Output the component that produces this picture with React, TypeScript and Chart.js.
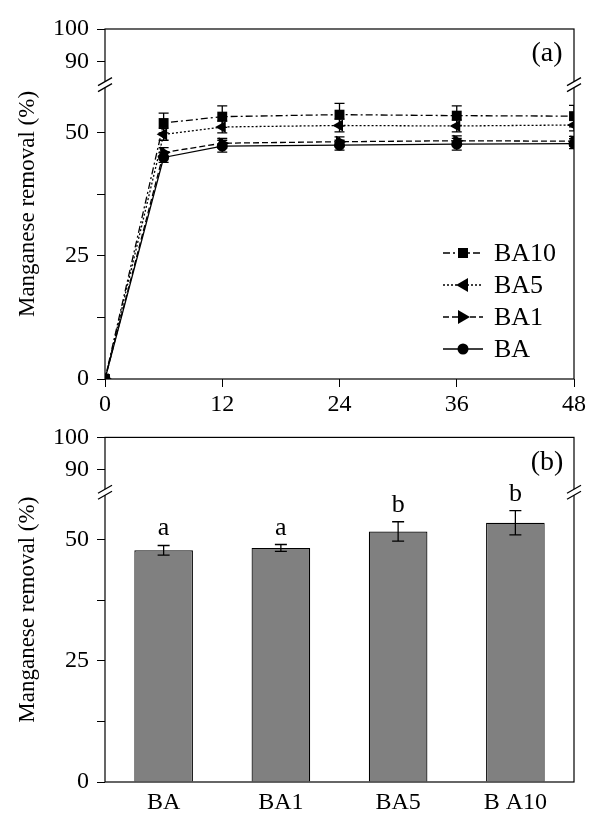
import React, { useEffect, useRef } from 'react';
import { Chart, registerables } from 'chart.js';

Chart.register(...registerables);

// ---------- data ----------
const TIMES = [0, 6, 12, 24, 36, 48];
const BA10 = [0, 52.0, 53.3, 53.7, 53.5, 53.4];
const BA10_ERR = [0, 2.0, 2.2, 2.3, 2.0, 2.2];
const BA5 = [0, 49.7, 51.2, 51.5, 51.4, 51.6];
const BA5_ERR = [0, 1.2, 1.2, 1.3, 1.2, 1.2];
const BA1 = [0, 46.0, 47.9, 48.2, 48.4, 48.3];
const BA1_ERR = [0, 1.0, 1.0, 1.0, 1.0, 1.0];
const BA = [0, 45.0, 47.3, 47.5, 47.7, 47.8];
const BA_ERR = [0, 1.0, 1.2, 1.0, 1.2, 1.0];

const BAR_LABELS = ['BA', 'BA1', 'BA5', 'B A10'];
const BAR_VALUES = [47.8, 48.3, 51.7, 53.5];
const BAR_ERR = [1.0, 0.7, 2.0, 2.5];
const BAR_LETTERS = ['a', 'a', 'b', 'b'];

const X_TICKS = [0, 12, 24, 36, 48];
const Y_TICKS = [0, 25, 50, 90, 100];
const Y_MINOR = [12.5, 37.5];

// ---------- broken axis transform ----------
const LOW_MAX = 60;
const UP_ANCHOR = 90;
const UP_ANCHOR_T = 64.4;
const UP_SLOPE = 0.67;
const f = (v: number) => (v <= LOW_MAX ? v : UP_ANCHOR_T + (v - UP_ANCHOR) * UP_SLOPE);
const T_MAX = f(100);
const T_BREAK = 59.8;

const FONT = "'Liberation Serif', 'Times New Roman', serif";

const yScaleCfg = () => ({
  type: 'linear',
  min: 0,
  max: T_MAX,
  afterBuildTicks: (s: any) => {
    s.ticks = [...Y_TICKS, ...Y_MINOR].sort((a, b) => a - b).map((v) => ({ value: f(v) }));
  },
  afterFit: (s: any) => {
    s.width = 105;
  },
  ticks: {
    autoSkip: false,
    callback: (val: any) => {
      const hit = Y_TICKS.find((v) => Math.abs(f(v) - val) < 1e-6);
      return hit === undefined ? '' : String(hit);
    },
    font: { family: FONT, size: 24 },
    color: '#000',
    padding: 8,
  },
  grid: { drawOnChartArea: false, drawTicks: true, tickLength: 8, color: '#000', lineWidth: 1 },
  border: { display: false },
  title: {
    display: true,
    text: 'Manganese removal (%)',
    font: { family: FONT, size: 23 },
    color: '#000',
    padding: { top: 14, bottom: 0 },
  },
});

const framePlugin = (label: string) => ({
  id: 'frame',
  afterDraw(chart: any) {
    const { ctx, chartArea: a, scales } = chart;
    ctx.save();
    ctx.strokeStyle = '#000';
    ctx.lineWidth = 1.2;
    ctx.strokeRect(a.left, a.top, a.right - a.left, a.bottom - a.top);
    const yb = scales.y.getPixelForValue(T_BREAK);
    for (const x of [a.left, a.right]) {
      ctx.fillStyle = '#fff';
      ctx.fillRect(x - 2, yb - 3, 4, 6);
      ctx.strokeStyle = '#000';
      ctx.lineWidth = 1.2;
      for (const o of [-3, 3]) {
        ctx.beginPath();
        ctx.moveTo(x - 7, yb + o + 4);
        ctx.lineTo(x + 7, yb + o - 4);
        ctx.stroke();
      }
    }
    ctx.fillStyle = '#000';
    ctx.font = `28px ${FONT}`;
    ctx.textAlign = 'center';
    ctx.textBaseline = 'middle';
    ctx.fillText(label, a.right - 27, a.top + 25);
    ctx.restore();
  },
});

const errorPlugin = {
  id: 'errbars',
  afterDatasetsDraw(chart: any) {
    const { ctx, chartArea: a, scales } = chart;
    ctx.save();
    ctx.beginPath();
    ctx.rect(a.left, a.top - 20, a.right - a.left, a.bottom - a.top + 20);
    ctx.clip();
    chart.data.datasets.forEach((ds: any, di: number) => {
      const errs = ds.errors;
      const raw = ds.rawValues;
      if (!errs) return;
      const meta = chart.getDatasetMeta(di);
      const cap = ds.capHalf || 5;
      ctx.strokeStyle = '#000';
      ctx.lineWidth = 1.3;
      ctx.setLineDash([]);
      meta.data.forEach((el: any, i: number) => {
        const e = errs[i];
        if (!e) return;
        const x = el.x;
        const yt = scales.y.getPixelForValue(f(raw[i] + e));
        const yl = scales.y.getPixelForValue(f(raw[i] - e));
        ctx.beginPath();
        ctx.moveTo(x, yt);
        ctx.lineTo(x, yl);
        ctx.moveTo(x - cap, yt);
        ctx.lineTo(x + cap, yt);
        ctx.moveTo(x - cap, yl);
        ctx.lineTo(x + cap, yl);
        ctx.stroke();
        if (ds.letters) {
          ctx.fillStyle = '#000';
          ctx.font = `26px ${FONT}`;
          ctx.textAlign = 'center';
          ctx.textBaseline = 'alphabetic';
          ctx.fillText(ds.letters[i], x, yt - 10);
        }
      });
    });
    ctx.restore();
  },
};

type Series = { label: string; vals: number[]; errs: number[]; dash: number[]; marker: string };
const SERIES: Series[] = [
  { label: 'BA10', vals: BA10, errs: BA10_ERR, dash: [7, 3, 2, 3], marker: 'square' },
  { label: 'BA5', vals: BA5, errs: BA5_ERR, dash: [2, 2], marker: 'left' },
  { label: 'BA1', vals: BA1, errs: BA1_ERR, dash: [6, 3], marker: 'right' },
  { label: 'BA', vals: BA, errs: BA_ERR, dash: [], marker: 'circle' },
];

function drawMarker(ctx: CanvasRenderingContext2D, kind: string, x: number, y: number) {
  ctx.beginPath();
  if (kind === 'square') {
    ctx.rect(x - 5, y - 5, 10, 10);
  } else if (kind === 'circle') {
    ctx.arc(x, y, 5.5, 0, Math.PI * 2);
  } else if (kind === 'left') {
    ctx.moveTo(x - 7, y);
    ctx.lineTo(x + 5, y - 7);
    ctx.lineTo(x + 5, y + 7);
    ctx.closePath();
  } else {
    ctx.moveTo(x + 7, y);
    ctx.lineTo(x - 5, y - 7);
    ctx.lineTo(x - 5, y + 7);
    ctx.closePath();
  }
  ctx.fill();
}

const legendPlugin = {
  id: 'customLegend',
  afterDraw(chart: any) {
    const { ctx, chartArea: a } = chart;
    ctx.save();
    const x0 = a.right - 131;
    const x1 = a.right - 91;
    const tx = a.right - 80;
    SERIES.forEach((s, i) => {
      const y = a.bottom - 126 + i * 32;
      ctx.strokeStyle = '#000';
      ctx.lineWidth = 1.3;
      ctx.setLineDash(s.dash);
      ctx.beginPath();
      ctx.moveTo(x0, y);
      ctx.lineTo(x1, y);
      ctx.stroke();
      ctx.setLineDash([]);
      ctx.fillStyle = '#000';
      drawMarker(ctx, s.marker, (x0 + x1) / 2, y);
      ctx.font = `26px ${FONT}`;
      ctx.textAlign = 'left';
      ctx.textBaseline = 'middle';
      ctx.fillText(s.label, tx, y + 1);
    });
    ctx.restore();
  },
};

const pointCfg: Record<string, any> = {
  square: { pointStyle: 'rect', pointRadius: 7, rotation: 0 },
  left: { pointStyle: 'triangle', pointRadius: 7, rotation: -90 },
  right: { pointStyle: 'triangle', pointRadius: 7, rotation: 90 },
  circle: { pointStyle: 'circle', pointRadius: 5.5, rotation: 0 },
};

export default function App() {
  const refA = useRef<HTMLCanvasElement>(null);
  const refB = useRef<HTMLCanvasElement>(null);

  useEffect(() => {
    const chartA = new Chart(refA.current as HTMLCanvasElement, {
      type: 'line',
      data: {
        datasets: SERIES.map((s) => ({
          label: s.label,
          data: TIMES.map((t, i) => ({ x: t, y: f(s.vals[i]) })),
          rawValues: s.vals,
          errors: s.errs,
          capHalf: 5,
          borderColor: '#000',
          borderWidth: 1.3,
          borderDash: s.dash,
          backgroundColor: '#000',
          pointBackgroundColor: '#000',
          pointBorderColor: '#000',
          pointBorderWidth: 0,
          pointStyle: pointCfg[s.marker].pointStyle,
          pointRadius: pointCfg[s.marker].pointRadius,
          rotation: pointCfg[s.marker].rotation,
          tension: 0,
          fill: false,
        })) as any,
      },
      options: {
        responsive: false,
        animation: false,
        layout: { padding: { left: 0, right: 15, top: 29, bottom: 0 } },
        plugins: { legend: { display: false }, tooltip: { enabled: false } },
        scales: {
          x: {
            type: 'linear',
            min: 0,
            max: 48,
            afterBuildTicks: (s: any) => {
              s.ticks = X_TICKS.map((v) => ({ value: v }));
            },
            afterFit: (s: any) => {
              s.height = 36;
            },
            ticks: { autoSkip: false, maxRotation: 0, font: { family: FONT, size: 24 }, color: '#000', padding: 3 },
            grid: { drawOnChartArea: false, drawTicks: true, tickLength: 8, color: '#000' },
            border: { display: false },
          },
          y: yScaleCfg() as any,
        },
      } as any,
      plugins: [errorPlugin, legendPlugin, framePlugin('(a)')],
    });

    const chartB = new Chart(refB.current as HTMLCanvasElement, {
      type: 'bar',
      data: {
        labels: BAR_LABELS,
        datasets: [
          {
            data: BAR_VALUES.map(f),
            rawValues: BAR_VALUES,
            errors: BAR_ERR,
            letters: BAR_LETTERS,
            capHalf: 6,
            backgroundColor: '#808080',
            borderColor: '#000',
            borderWidth: 1.2,
            barPercentage: 0.5,
            categoryPercentage: 1,
          } as any,
        ],
      },
      options: {
        responsive: false,
        animation: false,
        layout: { padding: { left: 0, right: 15, top: 17, bottom: 0 } },
        plugins: { legend: { display: false }, tooltip: { enabled: false } },
        scales: {
          x: {
            afterFit: (s: any) => {
              s.height = 31;
            },
            ticks: { autoSkip: false, maxRotation: 0, font: { family: FONT, size: 24 }, color: '#000', padding: 6 },
            grid: { drawOnChartArea: false, drawTicks: false },
            border: { display: false },
          },
          y: yScaleCfg() as any,
        },
      } as any,
      plugins: [errorPlugin, framePlugin('(b)')],
    });

    return () => {
      chartA.destroy();
      chartB.destroy();
    };
  }, []);

  return (
    <div style={{ position: 'absolute', left: 0, top: 0, width: 589, height: 813, background: '#fff' }}>
      <canvas ref={refA} width={589} height={415} style={{ position: 'absolute', left: 0, top: 0 }} />
      <canvas ref={refB} width={589} height={398} style={{ position: 'absolute', left: 0, top: 415 }} />
    </div>
  );
}
